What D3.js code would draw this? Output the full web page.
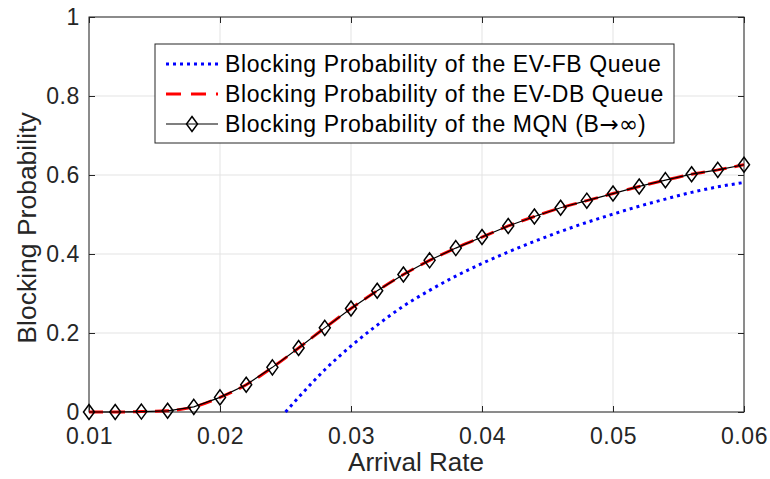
<!DOCTYPE html>
<html>
<head>
<meta charset="utf-8">
<script src="https://cdn.jsdelivr.net/npm/d3@7"></script>
<style>
  body { margin: 0; background: #fff; }
  svg text { font-family: "Liberation Sans", Arial, Helvetica, sans-serif; }
</style>
</head>
<body>
<div class="chart"></div>
<script>
// arrival rates where the MQN markers sit
const rates = [0.010, 0.012, 0.014, 0.016, 0.018, 0.020, 0.022, 0.024, 0.026, 0.028,
  0.030, 0.032, 0.034, 0.036, 0.038, 0.040, 0.042, 0.044, 0.046, 0.048,
  0.050, 0.052, 0.054, 0.056, 0.058, 0.060];
const mqn = [0, 0, 0.001, 0.003, 0.013, 0.037, 0.069, 0.113, 0.162, 0.213,
  0.262, 0.307, 0.348, 0.384, 0.415, 0.443, 0.471, 0.495, 0.517, 0.535,
  0.553, 0.571, 0.587, 0.602, 0.613, 0.626];
const evdb = mqn.slice();
// EV-FB curve
const fbRates = [0.025, 0.026, 0.027, 0.028, 0.029, 0.030, 0.032, 0.034, 0.036, 0.038,
  0.040, 0.042, 0.044, 0.046, 0.048, 0.050, 0.052, 0.054, 0.056, 0.058, 0.060];
const evfb = [0, 0.037, 0.073, 0.107, 0.138, 0.167, 0.220, 0.268, 0.308, 0.344,
  0.376, 0.405, 0.432, 0.457, 0.480, 0.501, 0.521, 0.539, 0.556, 0.570, 0.581];

const xTicks = [0.01, 0.02, 0.03, 0.04, 0.05, 0.06];
const yTicks = [0, 0.2, 0.4, 0.6, 0.8, 1];
const legendLabels = [
  ["Blocking Probability of the EV-FB Queue"],
  ["Blocking Probability of the EV-DB Queue"],
  ["Blocking Probability of the MQN (B", "\u2192\u221e", ")"]
];

const width = 770, height = 479;
const plotLeft = 89, plotRight = 744, plotTop = 17, plotBottom = 412;
const axisColor = "#262626";

const svg = d3.select(".chart").append("svg")
  .attr("width", width)
  .attr("height", height);

const x = d3.scaleLinear().domain([0.01, 0.06]).range([plotLeft, plotRight]);
const y = d3.scaleLinear().domain([0, 1]).range([plotBottom, plotTop]);

// grid
svg.append("g").selectAll("line.gx")
  .data(xTicks)
  .enter().append("line")
  .attr("x1", d => x(d)).attr("x2", d => x(d))
  .attr("y1", plotTop).attr("y2", plotBottom)
  .attr("stroke", "#e3e3e3").attr("stroke-width", 1);
svg.append("g").selectAll("line.gy")
  .data(yTicks)
  .enter().append("line")
  .attr("x1", plotLeft).attr("x2", plotRight)
  .attr("y1", d => y(d)).attr("y2", d => y(d))
  .attr("stroke", "#e3e3e3").attr("stroke-width", 1);

// axes (ticks inward, like matlab)
const xAxis = d3.axisBottom(x).tickValues(xTicks).tickSize(-6).tickPadding(16)
  .tickFormat(d3.format(".2f"));
const yAxis = d3.axisLeft(y).tickValues(yTicks).tickSize(-6).tickPadding(9)
  .tickFormat(d => d === 0 || d === 1 ? d3.format("d")(d) : d3.format(".1f")(d));

svg.append("g")
  .attr("transform", "translate(0," + plotBottom + ")")
  .call(xAxis);
svg.append("g")
  .attr("transform", "translate(" + plotLeft + ",0)")
  .call(yAxis);

// top / right ticks
svg.append("g").attr("transform", "translate(0," + plotTop + ")")
  .call(d3.axisTop(x).tickValues(xTicks).tickSize(-6).tickFormat(""));
svg.append("g").attr("transform", "translate(" + plotRight + ",0)")
  .call(d3.axisRight(y).tickValues(yTicks).tickSize(-6).tickFormat(""));

svg.selectAll(".domain").remove();
svg.selectAll(".tick line").attr("stroke", axisColor);
svg.selectAll(".tick text")
  .attr("fill", axisColor)
  .attr("font-size", null)
  .style("font-size", "23px")
  .style("letter-spacing", "0.6px");

// box
svg.append("rect")
  .attr("x", plotLeft).attr("y", plotTop)
  .attr("width", plotRight - plotLeft).attr("height", plotBottom - plotTop)
  .attr("fill", "none").attr("stroke", axisColor).attr("stroke-width", 1);

// axis titles
svg.append("text")
  .attr("x", 416).attr("y", 471)
  .attr("text-anchor", "middle")
  .attr("fill", axisColor)
  .style("font-size", "26px")
  .text("Arrival Rate");
svg.append("text")
  .attr("transform", "translate(36," + 228 + ") rotate(-90)")
  .attr("text-anchor", "middle")
  .attr("fill", axisColor)
  .style("font-size", "26.5px")
  .text("Blocking Probability");

// lines
const line = d3.line()
  .x(d => x(d[0]))
  .y(d => y(d[1]));

svg.append("path")
  .datum(fbRates.map((r, i) => [r, evfb[i]]))
  .attr("d", line.curve(d3.curveMonotoneX))
  .attr("fill", "none")
  .attr("stroke", "#0000ff")
  .attr("stroke-width", 3)
  .attr("stroke-dasharray", "3,4");

svg.append("path")
  .datum(rates.map((r, i) => [r, evdb[i]]))
  .attr("d", line.curve(d3.curveMonotoneX))
  .attr("fill", "none")
  .attr("stroke", "#ff0000")
  .attr("stroke-width", 3)
  .attr("stroke-dasharray", "14,8");

svg.append("path")
  .datum(rates.map((r, i) => [r, mqn[i]]))
  .attr("d", line.curve(d3.curveLinear))
  .attr("fill", "none")
  .attr("stroke", "#000")
  .attr("stroke-width", 1.2);

// diamond markers
function diamond(cx, cy) {
  const w = 5.5, h = 7.5;
  return "M" + cx + "," + (cy - h) + "L" + (cx + w) + "," + cy +
    "L" + cx + "," + (cy + h) + "L" + (cx - w) + "," + cy + "Z";
}
svg.append("g").selectAll("path.mk")
  .data(rates.map((r, i) => [r, mqn[i]]))
  .enter().append("path")
  .attr("d", d => diamond(x(d[0]), y(d[1])))
  .attr("fill", "none")
  .attr("stroke", "#000")
  .attr("stroke-width", 1.5);

// legend
const lg = svg.append("g");
lg.append("rect")
  .attr("x", 155).attr("y", 44)
  .attr("width", 519).attr("height", 99)
  .attr("fill", "#fff").attr("stroke", axisColor).attr("stroke-width", 1);

const rowY = [64, 94, 124];
const styles = [
  { stroke: "#0000ff", width: 3, dash: "3,4" },
  { stroke: "#ff0000", width: 3, dash: "15,10" },
  { stroke: "#000", width: 1.2, dash: null }
];
legendLabels.forEach((parts, i) => {
  lg.append("line")
    .attr("x1", 166).attr("x2", 218)
    .attr("y1", rowY[i]).attr("y2", rowY[i])
    .attr("stroke", styles[i].stroke)
    .attr("stroke-width", styles[i].width)
    .attr("stroke-dasharray", styles[i].dash);
  if (i === 2) {
    lg.append("path")
      .attr("d", diamond(192, rowY[i]))
      .attr("fill", "none").attr("stroke", "#000").attr("stroke-width", 1.5);
  }
  const t = lg.append("text")
    .attr("x", 225).attr("y", rowY[i] + 8)
    .attr("fill", "#000")
    .style("font-size", "23px")
    .style("letter-spacing", "0.6px");
  parts.forEach((p, j) => {
    const ts = t.append("tspan").text(p);
    if (j === 1) ts.style("font-family", "'DejaVu Sans', sans-serif").style("letter-spacing", "0px");
  });
});
</script>
</body>
</html>
